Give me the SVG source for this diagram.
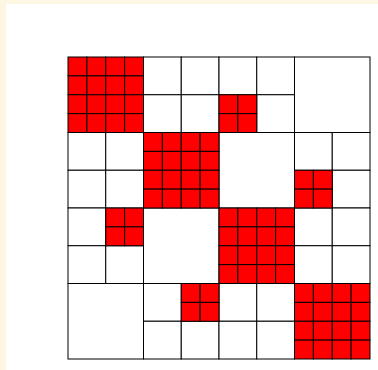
<svg xmlns="http://www.w3.org/2000/svg" xmlns:xlink="http://www.w3.org/1999/xlink" width="378" height="370" viewBox="0 0 378 370">
<style>
.w{fill:#ffffff;stroke:#000;stroke-width:1}
.r{fill:#ff0000;stroke:#000;stroke-width:1}
</style>
<defs>
<g id="red2">
<rect class="r" x="0" y="0" width="18.875" height="18.875"/>
<rect class="r" x="18.875" y="0" width="18.875" height="18.875"/>
<rect class="r" x="0" y="18.875" width="18.875" height="18.875"/>
<rect class="r" x="18.875" y="18.875" width="18.875" height="18.875"/>
</g>
<g id="red4">
<use xlink:href="#red2" x="0" y="0"/>
<use xlink:href="#red2" x="37.75" y="0"/>
<use xlink:href="#red2" x="0" y="37.75"/>
<use xlink:href="#red2" x="37.75" y="37.75"/>
</g>
</defs>
<rect x="0" y="0" width="378" height="370" fill="#fdf6e3"/>
<rect x="6" y="4" width="372" height="366" fill="#ffffff"/>
<g id="grid">
<g id="large-white">
<rect class="w" x="294.5" y="57" width="75.5" height="75.5"/>
<rect class="w" x="219" y="132.5" width="75.5" height="75.5"/>
<rect class="w" x="143.5" y="208" width="75.5" height="75.5"/>
<rect class="w" x="68" y="283.5" width="75.5" height="75.5"/>
</g>
<g id="white-cells">
<rect class="w" x="143.5" y="57" width="37.75" height="37.75"/>
<rect class="w" x="181.25" y="57" width="37.75" height="37.75"/>
<rect class="w" x="219" y="57" width="37.75" height="37.75"/>
<rect class="w" x="256.75" y="57" width="37.75" height="37.75"/>
<rect class="w" x="143.5" y="94.75" width="37.75" height="37.75"/>
<rect class="w" x="181.25" y="94.75" width="37.75" height="37.75"/>
<rect class="w" x="256.75" y="94.75" width="37.75" height="37.75"/>
<rect class="w" x="68" y="132.5" width="37.75" height="37.75"/>
<rect class="w" x="105.75" y="132.5" width="37.75" height="37.75"/>
<rect class="w" x="294.5" y="132.5" width="37.75" height="37.75"/>
<rect class="w" x="332.25" y="132.5" width="37.75" height="37.75"/>
<rect class="w" x="68" y="170.25" width="37.75" height="37.75"/>
<rect class="w" x="105.75" y="170.25" width="37.75" height="37.75"/>
<rect class="w" x="332.25" y="170.25" width="37.75" height="37.75"/>
<rect class="w" x="68" y="208" width="37.75" height="37.75"/>
<rect class="w" x="294.5" y="208" width="37.75" height="37.75"/>
<rect class="w" x="332.25" y="208" width="37.75" height="37.75"/>
<rect class="w" x="68" y="245.75" width="37.75" height="37.75"/>
<rect class="w" x="105.75" y="245.75" width="37.75" height="37.75"/>
<rect class="w" x="294.5" y="245.75" width="37.75" height="37.75"/>
<rect class="w" x="332.25" y="245.75" width="37.75" height="37.75"/>
<rect class="w" x="143.5" y="283.5" width="37.75" height="37.75"/>
<rect class="w" x="219" y="283.5" width="37.75" height="37.75"/>
<rect class="w" x="256.75" y="283.5" width="37.75" height="37.75"/>
<rect class="w" x="143.5" y="321.25" width="37.75" height="37.75"/>
<rect class="w" x="181.25" y="321.25" width="37.75" height="37.75"/>
<rect class="w" x="219" y="321.25" width="37.75" height="37.75"/>
<rect class="w" x="256.75" y="321.25" width="37.75" height="37.75"/>
</g>
<g id="red-small">
<use xlink:href="#red2" x="219" y="94.75"/>
<use xlink:href="#red2" x="294.5" y="170.25"/>
<use xlink:href="#red2" x="105.75" y="208"/>
<use xlink:href="#red2" x="181.25" y="283.5"/>
</g>
<g id="red-large">
<use xlink:href="#red4" x="68" y="57"/>
<use xlink:href="#red4" x="143.5" y="132.5"/>
<use xlink:href="#red4" x="219" y="208"/>
<use xlink:href="#red4" x="294.5" y="283.5"/>
</g>
</g>
</svg>
